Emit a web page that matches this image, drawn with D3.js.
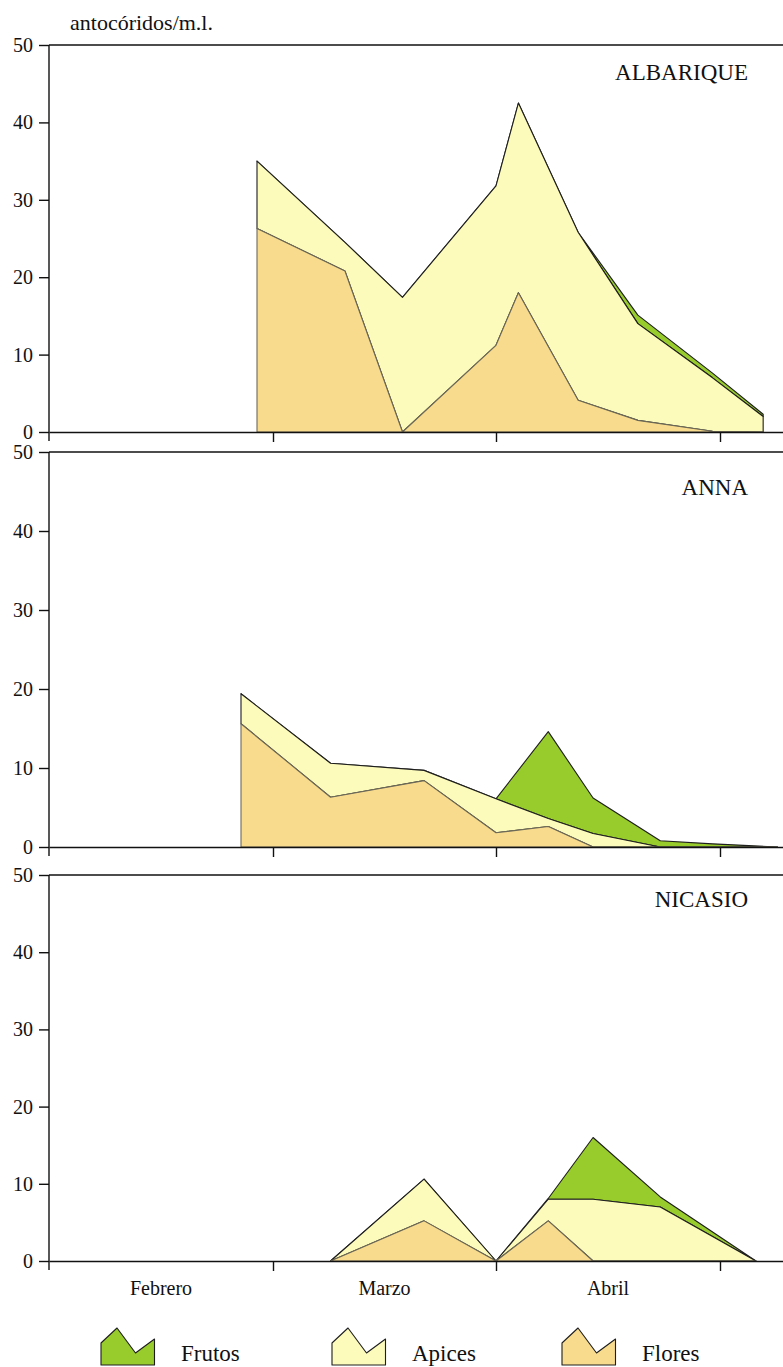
<!DOCTYPE html>
<html>
<head>
<meta charset="utf-8">
<script src="https://cdn.jsdelivr.net/npm/d3@7"></script>
<style>
  body { margin: 0; background: #fff; }
  svg { display: block; font-family: "Liberation Serif", "Times New Roman", serif; }
</style>
</head>
<body>
<svg id="chart" width="783" height="1367"></svg>
<script>
// series keys, stacked bottom to top
const seriesNames = ["Flores", "Apices", "Frutos"];
const monthLabels = ["Febrero", "Marzo", "Abril"];
const monthStarts = ["01/02", "01/03", "01/04", "01/05", "01/06"];
const yTicks = [0, 10, 20, 30, 40, 50];

// sampling dates (dd/mm) and values (antocóridos/m.l.) per orchard
const albariqueDates  = ["27/02", "11/03", "19/03", "01/04", "04/04", "12/04", "20/04", "30/04", "07/05"];
const albariqueFlores = [26.3, 20.8, 0, 11.2, 18.0, 4.1, 1.5, 0.1, 0];
const albariqueApices = [8.7, 3.7, 17.4, 20.6, 24.5, 21.7, 12.5, 6.9, 2.0];
const albariqueFrutos = [0, 0, 0, 0, 0, 0, 1.1, 0.6, 0.3];

const annaDates  = ["25/02", "09/03", "22/03", "01/04", "08/04", "14/04", "23/04", "30/04", "09/05"];
const annaFlores = [15.6, 6.3, 8.4, 1.8, 2.6, 0, 0, 0, 0];
const annaApices = [3.8, 4.3, 1.3, 4.3, 1.0, 1.7, 0, 0, 0];
const annaFrutos = [0, 0, 0, 0, 11.0, 4.5, 0.8, 0.4, 0];

const nicasioDates  = ["09/03", "22/03", "01/04", "08/04", "14/04", "23/04", "06/05"];
const nicasioFlores = [0, 5.2, 0, 5.2, 0, 0, 0];
const nicasioApices = [0, 5.4, 0, 2.8, 8.0, 7.0, 0];
const nicasioFrutos = [0, 0, 0, 0.1, 8.0, 1.3, 0];

const colors = { Frutos: "#98cb2c", Apices: "#fcfbbb", Flores: "#f8db8c" };
const strokes = { Frutos: "#1e1e1e", Apices: "#1e1e1e", Flores: "#6e6a58" };

const parseDay = d3.timeParse("%d/%m");
const svg = d3.select("#chart");

const x = d3.scaleTime()
  .domain(monthStarts.map(parseDay))
  .range([49, 273, 496, 720, 943]);

const panels = [
  { name: "ALBARIQUE", dates: albariqueDates, values: [albariqueFlores, albariqueApices, albariqueFrutos], top: 45, base: 432, nameY: 80 },
  { name: "ANNA", dates: annaDates, values: [annaFlores, annaApices, annaFrutos], top: 452, base: 847, nameY: 495 },
  { name: "NICASIO", dates: nicasioDates, values: [nicasioFlores, nicasioApices, nicasioFrutos], top: 875, base: 1261, nameY: 907 }
];

svg.append("text")
  .attr("x", 70).attr("y", 30)
  .attr("font-size", 22).attr("fill", "#111")
  .text("antocóridos/m.l.");

panels.forEach(p => {
  const g = svg.append("g");
  const y = d3.scaleLinear().domain([0, 50]).range([p.base, p.top]);

  const rows = p.dates.map((d, i) => {
    const row = { date: parseDay(d) };
    seriesNames.forEach((k, j) => { row[k] = p.values[j][i]; });
    return row;
  });
  const stacked = d3.stack().keys(seriesNames)(rows);

  const area = d3.area()
    .x(d => x(d.data.date))
    .y0(d => y(d[0]))
    .y1(d => y(d[1]));

  // top layer first so the lower layers' outlines sit on top of it
  g.selectAll("path.layer")
    .data(stacked.slice().reverse())
    .join("path")
    .attr("class", "layer")
    .attr("d", area)
    .attr("fill", d => colors[d.key])
    .attr("stroke", d => strokes[d.key])
    .attr("stroke-width", 1.1)
    .attr("stroke-linejoin", "round");

  // frame top line at 50
  g.append("line")
    .attr("x1", 49).attr("x2", 783)
    .attr("y1", y(50)).attr("y2", y(50))
    .attr("stroke", "#111").attr("stroke-width", 1.4);

  const yAxis = g.append("g")
    .attr("transform", "translate(49,0)")
    .call(d3.axisLeft(y).tickValues(yTicks).tickSize(10).tickSizeOuter(0).tickPadding(6));
  yAxis.select(".domain").remove();
  yAxis.selectAll("line").attr("stroke", "#111").attr("stroke-width", 1.4);
  yAxis.selectAll("text")
    .attr("font-family", "Liberation Serif, serif")
    .attr("font-size", 20).attr("fill", "#111");

  g.append("line")
    .attr("x1", 49).attr("x2", 49)
    .attr("y1", y(50)).attr("y2", p.base + 9)
    .attr("stroke", "#111").attr("stroke-width", 1.4);

  const xAxis = g.append("g")
    .attr("transform", `translate(0,${p.base})`)
    .call(d3.axisBottom(x).tickValues(monthStarts.slice(1, 4).map(parseDay)).tickSize(10).tickSizeOuter(0).tickFormat(""));
  xAxis.select(".domain").attr("stroke", "#111").attr("stroke-width", 1.4);
  xAxis.selectAll("line").attr("stroke", "#111").attr("stroke-width", 1.4);

  g.append("text")
    .attr("x", 748).attr("y", p.nameY)
    .attr("text-anchor", "end")
    .attr("font-size", 23).attr("fill", "#111")
    .text(p.name);
});

// month names under the last panel
const last = panels[panels.length - 1];
svg.append("g").selectAll("text")
  .data(monthLabels)
  .join("text")
  .attr("x", (d, i) => (x(parseDay(monthStarts[i])) + x(parseDay(monthStarts[i + 1]))) / 2)
  .attr("y", last.base + 34)
  .attr("text-anchor", "middle")
  .attr("font-size", 20).attr("fill", "#111")
  .text(d => d);

// legend
const legendOrder = ["Frutos", "Apices", "Flores"];
const legendX = [101, 332, 562];
const iconShape = [[0, 0], [0, -22], [16, -37], [34.5, -12], [53.5, -26], [53.5, 0]];
const legend = svg.append("g").selectAll("g")
  .data(legendOrder)
  .join("g")
  .attr("transform", (d, i) => `translate(${legendX[i]},1365)`);

legend.append("path")
  .attr("d", d3.line()(iconShape) + "Z")
  .attr("fill", d => colors[d])
  .attr("stroke", "#1e1e1e").attr("stroke-width", 1.1)
  .attr("stroke-linejoin", "round");

legend.append("text")
  .attr("x", 80).attr("y", -4)
  .attr("font-size", 23).attr("fill", "#111")
  .text(d => d);
</script>
</body>
</html>
